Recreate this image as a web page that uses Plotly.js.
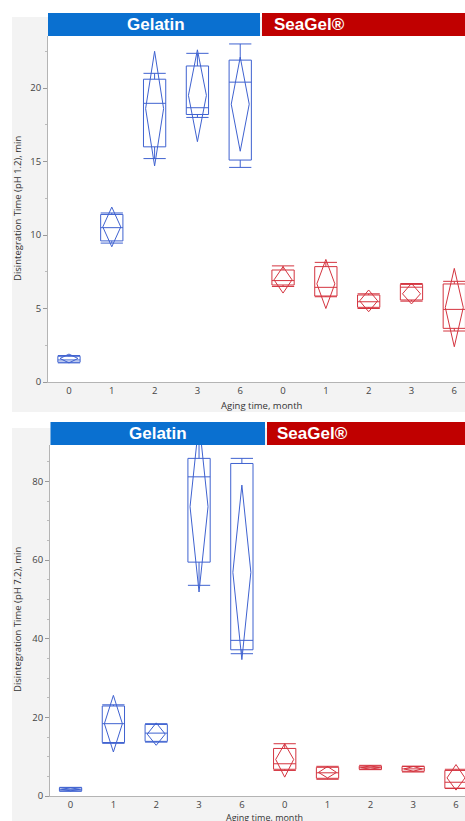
<!DOCTYPE html>
<html><head><meta charset="utf-8">
<script src="https://cdn.plot.ly/plotly-3.0.1.min.js"></script>
<style>html,body{margin:0;padding:0;background:#fff;}#chart{width:465px;height:821px;}</style>
</head><body><div id="chart"></div>
<script>
// ---- data ----
const months = ['0','1','2','3','6'];
const materials = ['Gelatin','SeaGel®'];

// pH 1.2 – Gelatin
const a_gel_q1  = [1.35, 9.6, 16.0, 18.2, 15.1];
const a_gel_med = [1.5, 10.5, 18.96, 18.66, 20.4];
const a_gel_q3  = [1.75, 11.4, 20.6, 21.5, 21.9];
const a_gel_lo  = [1.3, 9.45, 15.2, 18.0, 14.6];
const a_gel_hi  = [1.8, 11.5, 21.0, 22.36, 23.0];
const a_gel_mean= [1.6, 10.55, 18.6, 19.5, 18.9];
const a_gel_cil = [1.3, 9.2, 14.7, 16.35, 15.7];
const a_gel_cih = [1.9, 11.9, 22.5, 22.6, 22.1];
// pH 1.2 – SeaGel
const a_sea_q1  = [6.6, 5.85, 5.08, 5.58, 3.65];
const a_sea_med = [6.9, 6.44, 5.46, 6.45, 4.94];
const a_sea_q3  = [7.62, 7.85, 5.92, 6.64, 6.67];
const a_sea_lo  = [6.5, 5.8, 5.0, 5.5, 3.47];
const a_sea_hi  = [7.9, 8.14, 6.0, 6.7, 6.85];
const a_sea_mean= [6.95, 6.68, 5.52, 6.0, 5.07];
const a_sea_cil = [6.05, 5.0, 4.78, 5.31, 2.4];
const a_sea_cih = [7.85, 8.34, 6.26, 6.71, 7.73];

// pH 7.2 – Gelatin
const b_gel_q1  = [1.3, 13.6, 13.9, 59.5, 37.2];
const b_gel_med = [1.7, 18.4, 16.0, 81.2, 39.6];
const b_gel_q3  = [2.1, 22.9, 18.2, 85.9, 84.6];
const b_gel_lo  = [1.2, 13.4, 13.7, 53.6, 36.2];
const b_gel_hi  = [2.2, 23.2, 18.4, 92.0, 85.9];
const b_gel_mean= [1.7, 18.4, 15.75, 73.6, 56.9];
const b_gel_cil = [1.3, 11.2, 12.9, 51.9, 34.7];
const b_gel_cih = [2.1, 25.6, 18.6, 95.3, 79.1];
// pH 7.2 – SeaGel
const b_sea_q1  = [6.8, 4.5, 6.8, 6.3, 2.0];
const b_sea_med = [8.2, 5.9, 7.2, 6.9, 3.5];
const b_sea_q3  = [12.1, 7.3, 7.6, 7.5, 6.5];
const b_sea_lo  = [6.5, 4.25, 6.7, 6.1, 1.9];
const b_sea_hi  = [13.3, 7.55, 7.8, 7.6, 6.8];
const b_sea_mean= [9.3, 6.0, 7.2, 6.9, 4.6];
const b_sea_cil = [4.8, 4.6, 6.8, 6.3, 1.5];
const b_sea_cih = [13.3, 7.5, 7.7, 7.5, 8.0];

const yTitles = ['Disintegration Time (pH 1.2), min', 'Disintegration Time (pH 7.2), min'];
const xTitle = 'Aging time, month';
const yTicks1 = [0,5,10,15,20];
const yTicks2 = [0,20,40,60,80];

// ---- style ----
const BLUE = '#3f62d0', RED = '#d4343f';
const HDR_BLUE = '#0a70d0', HDR_RED = '#c00000';
const FONT = 'Open Sans, Noto Sans, sans-serif';
const HFONT = 'Liberation Sans, Arial, sans-serif';
const BOXW = 0.52, DIAW = 0.21;

const posGel = months.map((m,i)=>i);
const posSea = months.map((m,i)=>i+5);

function boxTrace(pos, q1, med, q3, lo, hi, color, xa, ya){
  return {type:'box', x:pos, q1:q1, median:med, q3:q3, lowerfence:lo, upperfence:hi,
    width:BOXW, whiskerwidth:1, boxpoints:false, fillcolor:'rgba(0,0,0,0)',
    line:{color:color, width:1}, xaxis:xa, yaxis:ya, showlegend:false, hoverinfo:'skip'};
}
function diamondTrace(pos, mean, cil, cih, color, xa, ya){
  const xs=[], ys=[];
  pos.forEach((p,i)=>{
    xs.push(p-DIAW, p, p+DIAW, p, p-DIAW, null);
    ys.push(mean[i], cih[i], mean[i], cil[i], mean[i], null);
  });
  return {type:'scatter', mode:'lines', x:xs, y:ys, line:{color:color, width:1},
    xaxis:xa, yaxis:ya, showlegend:false, hoverinfo:'skip', cliponaxis:true};
}

const data = [
  boxTrace(posGel, a_gel_q1, a_gel_med, a_gel_q3, a_gel_lo, a_gel_hi, BLUE, 'x', 'y'),
  boxTrace(posSea, a_sea_q1, a_sea_med, a_sea_q3, a_sea_lo, a_sea_hi, RED, 'x', 'y'),
  diamondTrace(posGel, a_gel_mean, a_gel_cil, a_gel_cih, BLUE, 'x', 'y'),
  diamondTrace(posSea, a_sea_mean, a_sea_cil, a_sea_cih, RED, 'x', 'y'),
  boxTrace(posGel, b_gel_q1, b_gel_med, b_gel_q3, b_gel_lo, b_gel_hi, BLUE, 'x2', 'y2'),
  boxTrace(posSea, b_sea_q1, b_sea_med, b_sea_q3, b_sea_lo, b_sea_hi, RED, 'x2', 'y2'),
  diamondTrace(posGel, b_gel_mean, b_gel_cil, b_gel_cih, BLUE, 'x2', 'y2'),
  diamondTrace(posSea, b_sea_mean, b_sea_cil, b_sea_cih, RED, 'x2', 'y2')
];

const H = 821, W = 465;
const py = v => 1 - v/H, px = v => v/W;
const tickvals = posGel.concat(posSea);
const ticktext = months.concat(months);

function xAxis(domain, range, anchor){
  return {domain:domain, range:range, anchor:anchor, tickmode:'array', tickvals:tickvals, ticktext:ticktext,
    ticks:'', showline:true, linecolor:'#b4b4b4', linewidth:1, zeroline:false, showgrid:false,
    tickfont:{family:FONT, size:9.5, color:'#444'}, fixedrange:true};
}
function yAxis(domain, range, ticks, minor, anchor){
  return {domain:domain, range:range, anchor:anchor, tickmode:'array', tickvals:ticks,
    ticks:'outside', ticklen:4, tickcolor:'#999', showline:true, linecolor:'#b4b4b4', linewidth:1,
    zeroline:false, showgrid:false, tickfont:{family:FONT, size:9.5, color:'#444'},
    minor:{ticks:'outside', ticklen:2, tickcolor:'#bbb', dtick:minor, tick0:0, showgrid:false}, fixedrange:true};
}
function ann(text, x, y, font, extra){
  return Object.assign({text:text, xref:'paper', yref:'paper', x:px(x), y:py(y), xanchor:'center', yanchor:'middle', showarrow:false, font:font}, extra||{});
}
const hdrFont = {family:HFONT, size:17, color:'#fff'};
const txtFont = {family:FONT, size:9.5, color:'#333'};

const layout = {
  width:W, height:H, margin:{l:0,r:0,t:0,b:0}, paper_bgcolor:'#fff', plot_bgcolor:'#fff',
  showlegend:false,
  xaxis: xAxis([px(48),1], [-0.49, 9.25], 'y'),
  yaxis: yAxis([py(382), py(36)], [0, 23.54], yTicks1, 2.5, 'x'),
  xaxis2: xAxis([px(50),1], [-0.48, 9.21], 'y2'),
  yaxis2: yAxis([py(796), py(445)], [0, 89.3], yTicks2, 5, 'x2'),
  shapes: [
    {type:'rect', xref:'paper', yref:'paper', x0:px(12), x1:1, y0:py(412), y1:py(17), fillcolor:'#f3f3f3', line:{width:0}, layer:'below'},
    {type:'rect', xref:'paper', yref:'paper', x0:px(12), x1:1, y0:0, y1:py(428), fillcolor:'#f3f3f3', line:{width:0}, layer:'below'},
    {type:'rect', xref:'x domain', yref:'y domain', x0:0, x1:1, y0:0, y1:1, fillcolor:'#fff', line:{width:0}, layer:'below'},
    {type:'rect', xref:'x2 domain', yref:'y2 domain', x0:0, x1:1, y0:0, y1:1, fillcolor:'#fff', line:{width:0}, layer:'below'},
    {type:'rect', xref:'paper', yref:'paper', x0:px(48), x1:px(260), y0:py(36), y1:py(13), fillcolor:HDR_BLUE, line:{width:0}},
    {type:'rect', xref:'paper', yref:'paper', x0:px(262), x1:1, y0:py(36), y1:py(13), fillcolor:HDR_RED, line:{width:0}},
    {type:'rect', xref:'paper', yref:'paper', x0:px(50.5), x1:px(265), y0:py(445), y1:py(422), fillcolor:HDR_BLUE, line:{width:0}},
    {type:'rect', xref:'paper', yref:'paper', x0:px(267), x1:1, y0:py(445), y1:py(422), fillcolor:HDR_RED, line:{width:0}}
  ],
  annotations: [
    ann('<b>'+materials[0]+'</b>', 156, 24.5, hdrFont),
    ann('<b>'+materials[1]+'</b>', 309, 24.5, hdrFont),
    ann('<b>'+materials[0]+'</b>', 157.5, 433.5, hdrFont),
    ann('<b>'+materials[1]+'</b>', 312, 433.5, hdrFont),
    ann(yTitles[0], 17, 209, txtFont, {textangle:-90}),
    ann(yTitles[1], 17, 620, txtFont, {textangle:-90}),
    ann(xTitle, 262, 405, txtFont),
    ann(xTitle, 264, 817, {family:FONT, size:9, color:'#333'})
  ]
};

Plotly.newPlot('chart', data, layout, {displayModeBar:false, staticPlot:true});
</script>
</body></html>
